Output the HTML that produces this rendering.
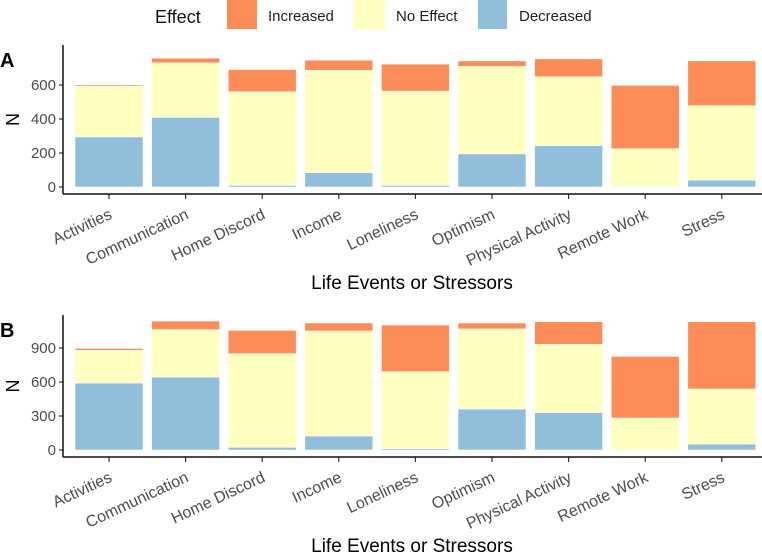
<!DOCTYPE html>
<html><head><meta charset="utf-8"><style>
body{margin:0;background:#fff;}
text{font-family:"Liberation Sans",sans-serif;}
</style></head><body>
<svg id="chart" width="762" height="552" xmlns="http://www.w3.org/2000/svg">
<g>
<text x="155" y="23" font-size="18" fill="#111">Effect</text>
<rect x="227" y="0" width="30" height="29" fill="#fc8d59"/>
<text x="268" y="21" font-size="15" fill="#222">Increased</text>
<rect x="354" y="0" width="31" height="29" fill="#ffffbf"/>
<text x="396" y="21" font-size="15" fill="#222">No Effect</text>
<rect x="478" y="0" width="29" height="29" fill="#91bfdb"/>
<text x="519" y="21" font-size="15" fill="#222">Decreased</text>
</g>
</svg>
<script>
const categories=["Activities","Communication","Home Discord","Income","Loneliness","Optimism","Physical Activity","Remote Work","Stress"];
const aDecreased=[295,410,10,84,10,195,244,4,41];
const aNoEffect=[297,320,550,602,554,514,404,221,437];
const aIncreased=[8,28,131,60,159,33,106,373,264];
const bDecreased=[591,644,24,124,12,362,329,0,53];
const bNoEffect=[288,418,826,926,679,706,603,282,485];
const bIncreased=[18,76,206,71,412,53,200,544,594];
const aTicks=[0,200,400,600];
const bTicks=[0,300,600,900];

const NS="http://www.w3.org/2000/svg";
const svg=document.getElementById('chart');
function mk(tag,attrs,parent){const e=document.createElementNS(NS,tag);for(const k in attrs)e.setAttribute(k,attrs[k]);(parent||svg).appendChild(e);return e;}
const colors={inc:"#fc8d59",ne:"#ffffbf",dec:"#91bfdb"};
function panel(id,letter,dec,ne,inc,ticks,zeroY,pxPerUnit,topY){
  const g=mk('g',{});
  
  
  const y=v=>zeroY-v*pxPerUnit;
  const x=i=>75+i*76.6;
  const bw=68;
  const axisY=zeroY+7;
  const t=mk('text',{x:0,y:topY+22,'font-size':20,'font-weight':'bold',fill:'#000'},g);t.textContent=letter;
  
  
  categories.forEach((c,i)=>{
    const segs=[['dec',0,dec[i]],['ne',dec[i],dec[i]+ne[i]],['inc',dec[i]+ne[i],dec[i]+ne[i]+inc[i]]];
    segs.forEach(s=>{
      const r=mk('rect',{x:x(i),y:y(s[2]),width:bw,height:Math.max(0,y(s[1])-y(s[2])),fill:colors[s[0]],stroke:'#fff','stroke-width':0.6},g);
      
      
    });
    const cx=x(i)+bw/2;
    mk('line',{x1:cx,x2:cx,y1:axisY,y2:axisY+5,stroke:'#333','stroke-width':1.2},g);
    const lx=cx+4, ly=axisY+24;
    const lb=mk('text',{x:lx,y:ly,'font-size':16,fill:'#4d4d4d','text-anchor':'end',transform:`rotate(-25 ${lx} ${ly})`},g);
    lb.textContent=c;
    
    
  });
  ticks.forEach(v=>{
    mk('line',{x1:59,x2:63,y1:y(v),y2:y(v),stroke:'#333','stroke-width':1.2},g);
    const tl=mk('text',{x:56,y:y(v)+5,'font-size':15,fill:'#4d4d4d','text-anchor':'end'},g);
    tl.textContent=v;
    
    
  });
  const ax=mk('line',{x1:63,x2:63,y1:topY,y2:axisY,stroke:'#111','stroke-width':1.5},g);
  
  
  const axx=mk('line',{x1:63,x2:762,y1:axisY,y2:axisY,stroke:'#111','stroke-width':1.5},g);
  
  
  const yt=mk('text',{x:0,y:0,'font-size':18,fill:'#000','text-anchor':'middle',transform:`translate(19 ${(topY+axisY)/2}) rotate(-90)`},g);
  yt.textContent='N';
  
  
  const xt=mk('text',{x:412,y:axisY+95,'font-size':19,fill:'#000','text-anchor':'middle'},g);
  xt.textContent='Life Events or Stressors';
  
  
}
panel('a','A',aDecreased,aNoEffect,aIncreased,aTicks,187,34/200,45);
panel('b','B',bDecreased,bNoEffect,bIncreased,bTicks,450,102/900,315);
</script>
</body></html>
